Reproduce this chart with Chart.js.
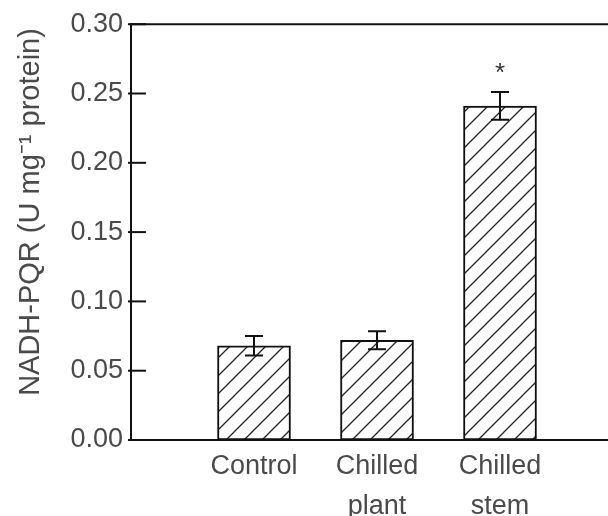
<!DOCTYPE html>
<html>
<head>
<meta charset="utf-8">
<script src="https://cdn.jsdelivr.net/npm/chart.js@4/dist/chart.umd.min.js"></script>
<style>
html,body{margin:0;padding:0;background:#fff;}
#wrap{width:608px;height:516px;}
</style>
</head>
<body>
<div id="wrap"><canvas id="c" width="608" height="516"></canvas></div>
<script>
// ---- data ----
const categories = [["Control"], ["Chilled", "plant"], ["Chilled", "stem"]];
const means = [0.068, 0.072, 0.241];
const errors = [0.007, 0.0065, 0.010];
const significance = ["", "", "*"];
const yTicks = [0.00, 0.05, 0.10, 0.15, 0.20, 0.25, 0.30];
const yTitle = "NADH-PQR (U mg\u207B\u00B9 protein)";

const textColor = "#4a4a4a";
const fontFamily = "'Liberation Sans', Arial, sans-serif";

// hatch pattern
function makeHatch() {
  const s = 18;
  const pc = document.createElement('canvas');
  pc.width = s; pc.height = s;
  const g = pc.getContext('2d');
  g.fillStyle = '#fff';
  g.fillRect(0, 0, s, s);
  g.strokeStyle = '#222';
  g.lineWidth = 1.3;
  g.beginPath();
  g.moveTo(-2, s + 2); g.lineTo(s + 2, -2);
  g.moveTo(-2, 2); g.lineTo(2, -2);
  g.moveTo(s - 2, s + 2); g.lineTo(s + 2, s - 2);
  g.stroke();
  return document.getElementById('c').getContext('2d').createPattern(pc, 'repeat');
}
const hatch = makeHatch();

const dataPoints = means.map((v, i) => ({ x: i + 1, y: v }));

const extras = {
  id: 'extras',
  afterDatasetsDraw(chart) {
    const ctx = chart.ctx;
    const xs = chart.scales.x, ys = chart.scales.y;
    const area = chart.chartArea;
    ctx.save();
    ctx.strokeStyle = '#111';
    ctx.lineWidth = 2;
    // top frame line
    ctx.beginPath();
    ctx.moveTo(area.left - 1, area.top);
    ctx.lineTo(area.right, area.top);
    ctx.stroke();
    // inner ticks on y axis
    yTicks.forEach(t => {
      const y = ys.getPixelForValue(t);
      ctx.beginPath();
      ctx.moveTo(area.left - 3, y);
      ctx.lineTo(area.left + 15, y);
      ctx.stroke();
    });
    // error bars
    means.forEach((m, i) => {
      const x = xs.getPixelForValue(i + 1);
      const yt = ys.getPixelForValue(m + errors[i]);
      const yb = ys.getPixelForValue(m - errors[i]);
      ctx.beginPath();
      ctx.moveTo(x, yt); ctx.lineTo(x, yb);
      ctx.moveTo(x - 9, yt); ctx.lineTo(x + 9, yt);
      ctx.moveTo(x - 9, yb); ctx.lineTo(x + 9, yb);
      ctx.stroke();
      if (significance[i]) {
        ctx.fillStyle = '#333';
        ctx.font = "26px " + fontFamily;
        ctx.textAlign = 'center';
        ctx.textBaseline = 'middle';
        ctx.fillText(significance[i], x, yt - 18);
      }
    });
    // y axis title
    ctx.fillStyle = textColor;
    ctx.font = "29px " + fontFamily;
    ctx.textAlign = 'center';
    ctx.textBaseline = 'middle';
    ctx.translate(31, 212);
    ctx.rotate(-Math.PI / 2);
    ctx.fillText(yTitle, 0, 0);
    ctx.restore();
  }
};

new Chart(document.getElementById('c'), {
  type: 'bar',
  data: {
    datasets: [{
      data: dataPoints,
      backgroundColor: hatch,
      borderColor: '#111',
      borderWidth: 2,
      borderSkipped: false,
      barThickness: 73
    }]
  },
  options: {
    responsive: false,
    animation: false,
    events: [],
    layout: { padding: { top: 21, right: 0, left: 0, bottom: 0 } },
    plugins: { legend: { display: false }, tooltip: { enabled: false } },
    scales: {
      x: {
        type: 'linear',
        min: 0,
        max: 3.878,
        offset: false,
        grid: { display: false, drawTicks: false },
        border: { display: true, color: '#111', width: 2 },
        afterBuildTicks(scale) {
          scale.ticks = categories.map((c, i) => ({ value: i + 1 }));
        },
        afterFit(scale) { scale.height = 76; },
        ticks: {
          autoSkip: false,
          maxRotation: 0,
          padding: 6,
          color: textColor,
          font: { family: fontFamily, size: 27, lineHeight: 1.5 },
          callback(v) { return categories[Math.round(v) - 1] || ''; }
        }
      },
      y: {
        min: 0,
        max: 0.30,
        afterBuildTicks(scale) {
          scale.ticks = yTicks.map(v => ({ value: v }));
        },
        afterFit(scale) { scale.width = 131; },
        grid: { display: false, drawTicks: false },
        border: { display: true, color: '#111', width: 2 },
        ticks: {
          padding: 8,
          color: textColor,
          font: { family: fontFamily, size: 27 },
          callback(v) { return Number(v).toFixed(2); }
        }
      }
    }
  },
  plugins: [extras]
});
</script>
</body>
</html>
